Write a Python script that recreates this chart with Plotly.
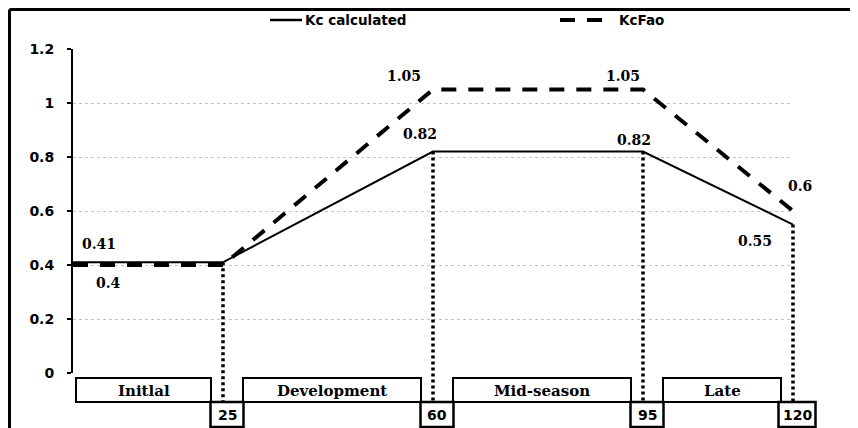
import plotly.graph_objects as go

# ---------------- data ----------------
days = [0, 25, 60, 95, 120]
kc_calculated = [0.41, 0.41, 0.82, 0.82, 0.55]
kc_fao = [0.40, 0.40, 1.05, 1.05, 0.60]
stages = ["Initlal", "Development", "Mid-season", "Late"]
stage_ends = [25, 60, 95, 120]
y_ticks = [0, 0.2, 0.4, 0.6, 0.8, 1.0, 1.2]
y_tick_labels = ["0", "0.2", "0.4", "0.6", "0.8", "1", "1.2"]

# ---------------- layout geometry ----------------
# the page body has an 8px margin, so the figure starts at page pixel (8, 8)
OFF = 8
W, H = 850, 420
L, T = 73 - OFF, 49 - OFF          # plot area top-left in figure pixels
PW, PH = 720, 324
R, B = W - L - PW, H - T - PH
X_RANGE = [0, 120]
Y_RANGE = [0, 1.2]


def day_px(d):      # page pixel of a day value
    return OFF + L + (d - X_RANGE[0]) / (X_RANGE[1] - X_RANGE[0]) * PW


def val_px(v):      # page pixel of a Kc value
    return OFF + T + PH - (v - Y_RANGE[0]) / (Y_RANGE[1] - Y_RANGE[0]) * PH


def px_x(p):        # page pixel -> paper
    return (p - OFF - L) / PW


def px_y(p):
    return (OFF + T + PH - p) / PH


SANS = "DejaVu Sans"
SERIF = "DejaVu Serif"

fig = go.Figure()
fig.add_trace(go.Scatter(x=days, y=kc_calculated, mode="lines", name="Kc calculated",
                         line=dict(color="black", width=2), showlegend=False))
fig.add_trace(go.Scatter(x=days, y=kc_fao, mode="lines", name="KcFao",
                         line=dict(color="black", width=4, dash="15px,12px"), showlegend=False))

shapes = []
annotations = []

# outer frame (left + top edges)
shapes.append(dict(type="line", xref="paper", yref="paper", x0=px_x(9.5), x1=px_x(9.5),
                   y0=px_y(9.5), y1=px_y(440), line=dict(color="black", width=3)))
shapes.append(dict(type="line", xref="paper", yref="paper", x0=px_x(9.5), x1=px_x(870),
                   y0=px_y(9.5), y1=px_y(9.5), line=dict(color="black", width=3)))

# legend (manual)
LEG_Y = 20
shapes.append(dict(type="line", xref="paper", yref="paper", x0=px_x(270), x1=px_x(302),
                   y0=px_y(LEG_Y), y1=px_y(LEG_Y), line=dict(color="black", width=2.5)))
annotations.append(dict(xref="paper", yref="paper", x=px_x(303), y=px_y(LEG_Y), text="<b>Kc calculated</b>",
                        showarrow=False, xanchor="left", yanchor="middle",
                        font=dict(family=SANS, size=13.5, color="black")))
shapes.append(dict(type="line", xref="paper", yref="paper", x0=px_x(560), x1=px_x(602),
                   y0=px_y(LEG_Y), y1=px_y(LEG_Y), line=dict(color="black", width=4, dash="15px,12px")))
annotations.append(dict(xref="paper", yref="paper", x=px_x(617), y=px_y(LEG_Y), text="<b>KcFao</b>",
                        showarrow=False, xanchor="left", yanchor="middle",
                        font=dict(family=SANS, size=13.5, color="black")))

# dotted vertical lines at stage ends, from calculated Kc down to the stage row
BOX_TOP, BOX_MID, BOX_BOT = 378, 402, 427
for d in stage_ends:
    v = kc_calculated[days.index(d)]
    shapes.append(dict(type="line", xref="paper", yref="paper",
                       x0=px_x(day_px(d)), x1=px_x(day_px(d)),
                       y0=px_y(val_px(v)), y1=px_y(BOX_MID),
                       line=dict(color="black", width=3.5, dash="3px,3px")))

# stage boxes
starts = [days[0]] + stage_ends[:-1]
for i, (name, s, e) in enumerate(zip(stages, starts, stage_ends)):
    left = day_px(s) + (3 if i == 0 else 20)
    right = day_px(e) - 12
    shapes.append(dict(type="rect", xref="paper", yref="paper",
                       x0=px_x(left), x1=px_x(right), y0=px_y(BOX_MID), y1=px_y(BOX_TOP),
                       line=dict(color="black", width=2), fillcolor="white"))
    annotations.append(dict(xref="paper", yref="paper", x=px_x((left + right) / 2),
                            y=px_y((BOX_TOP + BOX_MID) / 2 + 1), text="<b>%s</b>" % name,
                            showarrow=False, xanchor="center", yanchor="middle",
                            font=dict(family=SERIF, size=15, color="black")))

# day number boxes
for d in stage_ends:
    c = day_px(d) + 4
    w = 37 if d >= 100 else 33
    shapes.append(dict(type="rect", xref="paper", yref="paper",
                       x0=px_x(c - w / 2), x1=px_x(c + w / 2), y0=px_y(BOX_BOT), y1=px_y(BOX_MID),
                       line=dict(color="black", width=2.5), fillcolor="white"))
    annotations.append(dict(xref="paper", yref="paper", x=px_x(c), y=px_y((BOX_MID + BOX_BOT) / 2),
                            text="<b>%d</b>" % d, showarrow=False, xanchor="center", yanchor="middle",
                            font=dict(family=SANS, size=14, color="black")))

# data labels (index, pixel shift)
calc_label_shifts = {0: (26, 18), 2: (-13, 18), 3: (-9, 12), 4: (-38, -16)}
fao_label_shifts = {0: (35, -18), 2: (-29, 14), 3: (-20, 14), 4: (7, 25)}
for series, shifts in ((kc_calculated, calc_label_shifts), (kc_fao, fao_label_shifts)):
    for i, (dx, dy) in shifts.items():
        annotations.append(dict(xref="x", yref="y", x=days[i], y=series[i], text="<b>%s</b>" % series[i],
                                showarrow=False, xshift=dx, yshift=dy, xanchor="center", yanchor="middle",
                                font=dict(family=SERIF, size=14, color="black")))

fig.update_layout(
    width=W, height=H,
    margin=dict(l=L, r=R, t=T, b=B),
    paper_bgcolor="white", plot_bgcolor="white",
    showlegend=False,
    shapes=shapes,
    annotations=annotations,
    xaxis=dict(range=X_RANGE, showgrid=False, zeroline=False, showticklabels=False,
               showline=False, ticks=""),
    yaxis=dict(range=Y_RANGE, tickvals=y_ticks, ticktext=y_tick_labels,
               showgrid=True, gridcolor="#c4c4c4", griddash="dot", gridwidth=1,
               zeroline=False, showline=True, linecolor="black", linewidth=2,
               ticks="outside", ticklen=4, tickwidth=2, tickcolor="black",
               ticklabelstandoff=10,
               tickfont=dict(family=SANS, size=14, color="black", weight="bold")),
)

fig.write_html("out.html")
